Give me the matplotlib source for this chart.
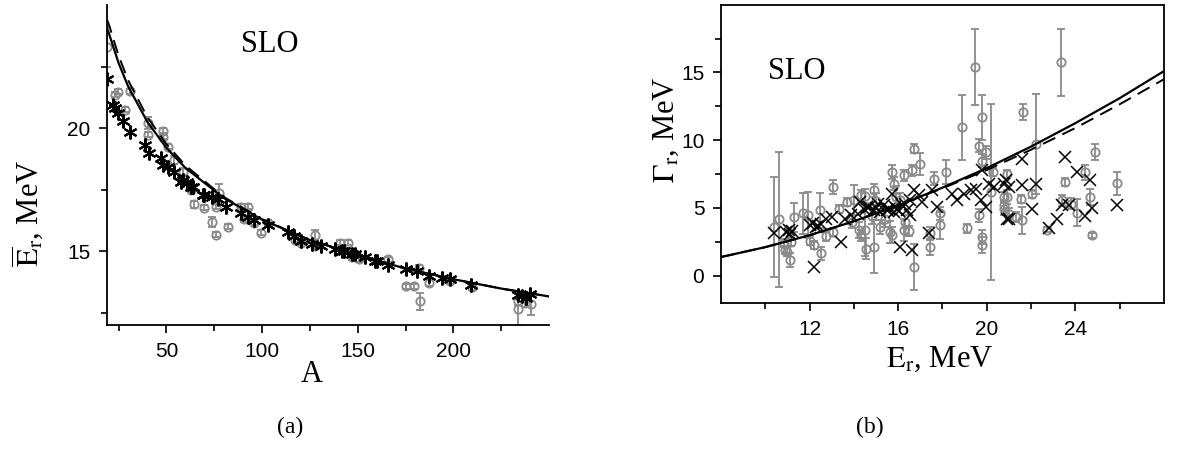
import numpy as np
import matplotlib
matplotlib.use("Agg")
import matplotlib.pyplot as plt

plt.rcParams['mathtext.fontset'] = 'stix'
plt.rcParams['font.family'] = ['Liberation Sans', 'DejaVu Sans']

# ---- panel (a): mean energy vs mass number ----
a_curve = [19, 20, 25, 30, 40, 50, 60, 80, 100, 125, 150, 175, 200, 225, 250]
e_solid = [24.06, 23.85, 22.65, 21.7, 20.26, 19.20, 18.38, 17.16, 16.28, 15.45, 14.85, 14.29, 13.86, 13.48, 13.16]
e_dash = [24.4, 24.2, 22.95, 21.95, 20.45, 19.35, 18.48, 17.2, 16.3, 15.45, 14.85, 14.29, 13.86, 13.48, 13.16]

a_star = [19, 22.2, 23.3, 24.9, 27.4, 31, 39, 41, 47, 48.5, 51, 54, 57.5, 58.5, 61, 62.7,
          63.7, 69, 69.5, 74, 76.8, 81, 88.9, 92.6, 96, 103, 113.6, 116.8, 120.6, 126,
          131, 138, 141.6, 143, 147, 148.6, 154, 159, 160, 166, 175, 181, 187, 194, 198,
          209, 233.7, 236, 238, 240]
e_star = [22.0, 20.94, 20.8, 20.6, 20.3, 19.85, 19.3, 19.0, 18.8, 18.5, 18.4, 18.2, 17.8, 17.9,
          17.8, 17.6, 17.6, 17.3, 17.3, 17.2, 17.1, 16.8, 16.56, 16.4, 16.28, 16.08, 15.76,
          15.6, 15.42, 15.3, 15.2, 15.07, 14.99, 15.0, 14.87, 14.87, 14.75, 14.6, 14.58,
          14.42, 14.26, 14.18, 13.98, 13.9, 13.86, 13.61, 13.2, 13.16, 13.1, 13.24]

a_circ = [19, 23, 24.8, 28.5, 31, 40.6, 40.6, 48, 48, 51, 54, 58.5, 62.7, 64.3, 69.5, 74,
          75.8, 75.8, 77.6, 82, 89, 90.7, 92.6, 96, 99.5, 103, 117, 120.6, 127.5, 127.5,
          140.6, 144.7, 147, 150.6, 166, 175, 179.5, 182, 182.7, 187, 198, 209.5, 233.7,
          233.7, 237.5, 240.6]
e_circ = [23.3, 21.35, 21.47, 20.74, 21.5, 20.2, 19.73, 19.9, 19.65, 19.25, 18.7, 18.23, 17.5,
          16.9, 16.77, 16.17, 15.67, 16.8, 17.36, 16.0, 16.8, 16.3, 16.8, 16.15, 15.75, 16.15,
          15.47, 15.35, 15.67, 15.2, 15.35, 15.35, 14.75, 14.67, 14.67, 13.57, 13.57, 14.3,
          12.96, 13.72, 13.78, 13.53, 12.64, 12.96, 12.88, 12.85]
err_circ = [0.8, 0.1, 0.1, 0.1, 0.1, 0.25, 0.1, 0.1, 0.1, 0.1, 0.15, 0.15, 0.1, 0.15, 0.1, 0.2,
            0.1, 0.1, 0.35, 0.1, 0.1, 0.1, 0.1, 0.1, 0.1, 0.1, 0.1, 0.1, 0.2, 0.1, 0.1, 0.1,
            0.1, 0.1, 0.1, 0.1, 0.1, 0.15, 0.35, 0.15, 0.1, 0.1, 0.65, 0.15, 0.15, 0.45]

# ---- panel (b): width vs energy ----
e_line = [8, 10, 12, 14, 16, 18, 20, 22, 24, 26, 28]
g_solid = [1.38, 2.11, 2.99, 4.02, 5.19, 6.50, 7.94, 9.53, 11.26, 13.10, 15.1]
g_dash = [1.38, 2.11, 2.99, 4.02, 5.19, 6.45, 7.8, 9.3, 10.9, 12.65, 14.5]

e_gc = [10.6, 10.4, 11.3, 11.1, 10.85, 11.17, 10.9, 11.0, 13.05, 11.95, 12.45, 12.5, 12.0, 12.2,
        12.75, 13.05, 13.35, 13.7, 14.0, 14.25, 14.55, 14.5, 11.7, 14.9, 16.7, 16.7, 19.64,
        19.95, 19.8, 18.18, 18.9, 19.45, 19.8, 21.63, 23.34, 20.2, 22.24, 15.72, 16.25, 15.8,
        16.63, 17.0, 17.6, 14.9, 14.3, 14.5, 15.65, 16.25, 17.45, 17.45, 17.9, 17.9, 19.12,
        19.64, 19.8, 19.8, 20.93, 20.77, 20.3, 20.93, 20.78, 20.78, 21.0, 21.3, 21.6, 21.53,
        22.06, 23.53, 23.41, 23.79, 24.06, 24.44, 24.66, 24.87, 25.9, 24.74, 22.74,
        15.0, 15.4, 15.9, 16.3, 15.2, 15.7, 16.1, 14.8, 16.5, 13.9, 14.3]
g_gc = [4.15, 3.6, 4.3, 1.15, 2.4, 2.5, 1.9, 1.77, 6.55, 4.46, 4.83, 1.65, 2.6, 2.25, 2.9, 3.2,
        4.95, 5.45, 5.57, 3.36, 2.0, 5.9, 4.6, 2.13, 0.66, 9.37, 9.6, 9.1, 8.5, 7.65, 10.95,
        15.37, 11.7, 12.06, 15.74, 6.2, 9.73, 7.65, 7.4, 6.8, 7.77, 8.26, 7.16, 6.3, 5.93,
        3.36, 3.24, 3.36, 2.13, 3.12, 3.73, 4.6, 3.49, 4.46, 2.87, 2.26, 5.8, 4.95, 7.65, 7.53,
        5.8, 5.2, 4.59, 4.34, 4.1, 5.69, 6.06, 6.92, 5.57, 5.32, 4.64, 7.65, 5.81, 9.12, 6.84,
        2.99, 3.41, 5.5, 4.2, 5.8, 4.0, 3.6, 3.0, 5.6, 4.4, 3.3, 4.0, 3.0]
err_gc = [5.0, 3.7, 1.1, 0.5, 0.3, 0.3, 0.3, 0.3, 0.5, 1.7, 1.3, 0.5, 0.3, 0.3, 0.3, 0.3, 0.3,
          0.3, 1.1, 0.6, 0.8, 0.5, 1.5, 1.95, 1.7, 0.35, 0.5, 0.5, 0.5, 0.9, 2.4, 2.8, 1.65, 0.6,
          2.45, 6.5, 3.7, 0.5, 0.4, 0.5, 0.4, 0.8, 0.5, 0.5, 0.4, 1.9, 0.8, 0.8, 0.6, 0.5, 1.0,
          0.5, 0.3, 0.5, 0.5, 0.6, 0.5, 0.5, 0.3, 0.3, 0.4, 0.4, 0.4, 0.4, 1.0, 0.3, 0.3, 0.3,
          0.4, 0.4, 1.0, 0.55, 0.6, 0.6, 0.85, 0.2, 0.2, 0.6, 0.6, 0.8, 0.5, 0.5, 0.6, 0.5, 0.6,
          0.4, 0.5, 0.4]

e_x = [10.41, 10.94, 11.09, 11.1, 12.22, 12.0, 12.3, 12.5, 12.75, 13.0, 13.43, 13.58, 13.88,
       14.18, 14.48, 14.7, 14.29, 14.59, 14.89, 15.2, 15.5, 15.72, 15.95, 16.18, 16.4, 16.55,
       16.7, 16.93, 17.08, 16.55, 16.1, 16.63, 17.38, 17.76, 17.53, 18.44, 18.67, 18.97, 19.27,
       19.5, 19.8, 19.72, 19.95, 20.1, 20.33, 20.78, 20.93, 21.6, 23.53, 20.85, 21.0, 21.6,
       22.24, 22.06, 21.0, 22.81, 23.19, 23.41, 23.71, 24.09, 24.65, 24.44, 24.77, 25.9,
       15.0, 15.35, 15.6, 15.85, 16.05, 16.3, 15.1, 15.8, 12.15, 12.4, 11.2]
g_x = [3.12, 3.24, 3.36, 3.1, 0.66, 3.73, 3.6, 3.85, 4.22, 4.3, 2.5, 4.22, 4.46, 4.59, 4.83,
       5.07, 5.44, 5.07, 4.83, 4.7, 4.83, 6.06, 4.95, 5.2, 4.83, 5.57, 6.3, 5.93, 5.44, 4.46,
       2.13, 1.89, 3.12, 5.07, 6.3, 6.06, 5.57, 6.06, 6.3, 6.43, 7.77, 5.57, 5.07, 6.8, 6.54,
       6.8, 4.22, 8.63, 8.75, 7.04, 6.54, 6.67, 6.8, 4.95, 4.22, 3.49, 4.22, 5.2, 5.2, 7.65,
       7.04, 4.39, 5.03, 5.2, 5.0, 5.2, 4.9, 5.1, 4.8, 5.3, 5.3, 4.7, 3.9, 3.7, 3.3]

gray = '#8a8a8a'

fig = plt.figure(figsize=(11.8, 4.5), dpi=100)
ax1 = fig.add_axes([0.0907, 0.2778, 0.3746, 0.7111])
ax2 = fig.add_axes([0.611, 0.327, 0.3754, 0.6626])

# (a)
ax1.errorbar(a_circ, e_circ, yerr=err_circ, fmt='o', mfc='none', mec=gray, ecolor=gray,
             ms=6, mew=1.3, elinewidth=1.3, capsize=3, capthick=1.3, zorder=2)
ax1.plot(a_star, e_star, ls='none', marker=(6, 2, 0), ms=10, mew=1.5, color='black', zorder=3)
ax1.plot(a_curve, e_solid, color='black', lw=1.6, zorder=4)
ax1.plot(a_curve, e_dash, color='black', lw=1.4, ls=(0, (7, 4)), zorder=4)
ax1.set_xlim(19, 250)
ax1.set_ylim(12, 25)
ax1.set_xticks([50, 100, 150, 200])
ax1.set_xticks([25, 75, 125, 175, 225], minor=True)
ax1.set_yticks([15, 20])
ax1.set_yticks([12.5, 17.5, 22.5], minor=True)
ax1.spines['top'].set_visible(False)
ax1.spines['right'].set_visible(False)
ax1.text(104, 23.4, 'SLO', family='Liberation Serif', fontsize=22, ha='center', va='center')
ax1.set_xlabel('A', family='Liberation Serif', fontsize=22)
ax1.xaxis.set_label_coords(0.464, -0.11)
ax1.set_ylabel(r'$\overline{\mathrm{E}}_{\mathrm{r}}$, MeV', family='Liberation Serif', fontsize=22)
ax1.yaxis.set_label_coords(-0.14, 0.35)

# (b)
ax2.errorbar(e_gc, g_gc, yerr=err_gc, fmt='o', mfc='none', mec=gray, ecolor=gray,
             ms=6, mew=1.3, elinewidth=1.3, capsize=3, capthick=1.3, zorder=2)
ax2.plot(e_x, g_x, ls='none', marker='x', ms=8, mew=1.1, color='black', zorder=3)
ax2.plot(e_line, g_solid, color='black', lw=1.6, zorder=4)
ax2.plot(e_line, g_dash, color='black', lw=1.4, ls=(0, (7, 4)), zorder=4)
ax2.set_xlim(8, 28)
ax2.set_ylim(-2, 20)
ax2.set_xticks([12, 16, 20, 24])
ax2.set_xticks([10, 14, 18, 22, 26], minor=True)
ax2.set_yticks([0, 5, 10, 15])
ax2.set_yticks([2.5, 7.5, 12.5, 17.5], minor=True)
ax2.text(11.4, 15.1, 'SLO', family='Liberation Serif', fontsize=22, ha='center', va='center')
ax2.set_xlabel(r'$\mathrm{E}_{\mathrm{r}}$, MeV', family='Liberation Serif', fontsize=22)
ax2.xaxis.set_label_coords(0.494, -0.14)
ax2.set_ylabel(r'$\Gamma_{\mathrm{r}}$, MeV', family='Liberation Serif', fontsize=22)
ax2.yaxis.set_label_coords(-0.09, 0.58)

for ax in (ax1, ax2):
    for s in ax.spines.values():
        s.set_linewidth(1.3)
    ax.tick_params(which='major', direction='out', length=6, width=1.2, labelsize=15, pad=6)
    ax.tick_params(which='minor', direction='out', length=4, width=1.2)

fig.text(0.2458, 0.05, '(a)', family='Liberation Serif', fontsize=17, ha='center', va='center')
fig.text(0.7373, 0.05, '(b)', family='Liberation Serif', fontsize=17, ha='center', va='center')

fig.savefig('out.png', dpi=100)
